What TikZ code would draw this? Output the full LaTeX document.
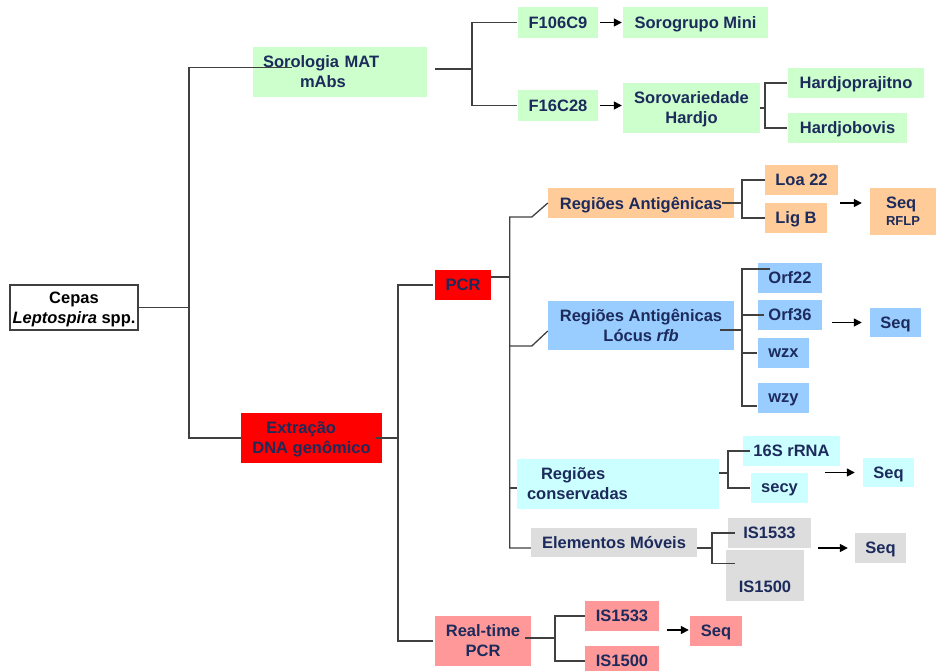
\documentclass[tikz,border=0pt]{standalone}
\usepackage{fontspec}
\setmainfont{Liberation Sans}
\usetikzlibrary{arrows.meta,positioning,calc}
\definecolor{Navy}{HTML}{1C2B5C}
\definecolor{Mint}{HTML}{CCFFCC}
\definecolor{Peach}{HTML}{FFCC99}
\definecolor{Sky}{HTML}{99CCFF}
\definecolor{Aqua}{HTML}{CCFFFF}
\definecolor{Ash}{HTML}{DDDDDD}
\definecolor{Salmon}{HTML}{FF9999}
\definecolor{Wire}{HTML}{404040}

\begin{document}
\begin{tikzpicture}[x=1pt,y=-1pt,
    box/.style={inner sep=0pt,text depth=0pt,font=\bfseries\fontsize{16.5}{20}\selectfont,text=Navy,align=center},
    wh/.style 2 args={minimum width=#1pt,minimum height=#2pt},
    conn/.style={draw=Wire,line width=1.3pt},
    arr/.style={draw=black,line width=1.5pt,-{Triangle[length=8pt,width=8pt]}}]
    \useasboundingbox (0,0) rectangle (936,670);
    % boxes
    \node[box,wh={128}{45},draw=Wire,line width=1.2pt,text=black] (cepas) at (74,307.5) {Cepas\\\textit{Leptospira} spp.};
    \node[box,fill=Mint,wh={174}{50},inner xsep=10pt,text width=154pt,text depth=,align=left] (sor) at (340,71.5) {Sorologia MAT\\\hspace*{37pt}mAbs};
    \node[box,fill=red,wh={141}{50},align=left] (ext) at (311.5,438) {\hspace*{14pt}Extração\\DNA genômico};
    \node[box,fill=Mint,wh={80}{31}] (f106) at (558,22.5) {F106C9};
    \node[box,fill=Mint,wh={145}{31}] (mini) at (695.5,22.5) {Sorogrupo Mini};
    \node[box,fill=Mint,wh={80}{31}] (f16) at (558,105.5) {F16C28};
    \node[box,fill=Mint,wh={137}{50}] (hardjo) at (691.5,108) {Sorovariedade\\Hardjo};
    \node[box,fill=Mint,wh={136}{30}] (prajitno) at (856,83) {Hardjoprajitno};
    \node[box,fill=Mint,wh={119}{30}] (bovis) at (847.5,128) {Hardjobovis};
    \node[box,fill=red,wh={56}{30}] (pcr) at (463,285) {PCR};
    \node[box,fill=Salmon,wh={96}{50}] (rt) at (483,641) {Real-time\\PCR};
    \node[box,fill=Peach,wh={186}{30}] (ant) at (641,203) {Regiões Antigênicas};
    \node[box,fill=Peach,wh={73}{30}] (loa) at (801.5,180) {Loa 22};
    \node[box,fill=Peach,wh={62}{30}] (ligb) at (796,218) {Lig B};
    \node[box,fill=Peach,wh={66}{47},align=left] (seqA) at (903,211.5) {Seq\\[-3pt]{\fontsize{13}{15}\selectfont RFLP}};
    \node[box,fill=Sky,wh={186}{49}] (rfb) at (641,325.5) {Regiões Antigênicas\\Lócus \textit{rfb}};
    \node[box,fill=Sky,wh={64}{30}] (orf22) at (790,278) {Orf22};
    \node[box,fill=Sky,wh={64}{30}] (orf36) at (790,315) {Orf36};
    \node[box,fill=Sky,wh={51}{30}] (wzx) at (783.5,353) {wzx};
    \node[box,fill=Sky,wh={51}{30}] (wzy) at (783.5,398) {wzy};
    \node[box,fill=Sky,wh={51}{29}] (seqB) at (895.5,322.5) {Seq};
    \node[box,fill=Aqua,wh={202}{50},inner xsep=10pt,text width=182pt,text depth=,align=left] (cons) at (618,484) {\hspace*{14pt}Regiões\\conservadas};
    \node[box,fill=Aqua,wh={97}{30}] (rrna) at (791.5,451) {16S rRNA};
    \node[box,fill=Aqua,wh={57}{30}] (secy) at (779.5,488) {secy};
    \node[box,fill=Aqua,wh={51}{29}] (seqC) at (888.5,472.5) {Seq};
    \node[box,fill=Ash,wh={166}{29}] (mov) at (614,542.5) {Elementos Móveis};
    \node[box,fill=Ash,wh={83}{30}] (isA) at (769.5,533) {IS1533};
    \node[box,fill=Ash,wh={78}{51}] (isB) at (765,575.5) {\strut\\IS1500};
    \node[box,fill=Ash,wh={51}{30}] (seqD) at (880.5,548) {Seq};
    \node[box,fill=Salmon,wh={74}{30}] (rtA) at (622,616) {IS1533};
    \node[box,fill=Salmon,wh={74}{30}] (rtB) at (622,661) {IS1500};
    \node[box,fill=Salmon,wh={52}{30}] (seqE) at (716,631) {Seq};
    % tree lines
    \coordinate (j1) at (189,307.5);
    \draw[conn] (cepas.east) -- (j1);
    \draw[conn] ([xshift=39pt,yshift=4pt]sor.west) -| (j1) |- (ext.west);
    \coordinate (j2) at (472,69);
    \draw[conn] ([xshift=8pt,yshift=2.5pt]sor.east) -- (j2);
    \draw[conn] ([xshift=-1pt]f106.west) -| (j2) |- ([xshift=-1pt]f16.west);
    \draw[arr] ([xshift=2pt]f106.east) -- ([xshift=-1pt]mini.west);
    \draw[arr] ([xshift=2pt]f16.east) -- ($(f16.east -| hardjo.west)+(-1,0)$);
    \coordinate (j3) at (765,108);
    \draw[conn] (hardjo.east) -- (j3);
    \draw[conn] ([xshift=-1pt]prajitno.west) -| (j3) |- ([xshift=-1pt]bovis.west);
    \coordinate (j4) at (398,438);
    \draw[conn] ([xshift=-6pt]ext.east) -- (j4);
    \draw[conn] ([xshift=-2pt]pcr.west) -| (j4) |- ([xshift=-2pt]rt.west);
    \coordinate (j5) at (510,277);
    \draw[conn] ([yshift=8pt]pcr.east) -- (j5);
    \draw[conn] (ant.west) -- ++(-16,14) -- ++(-22,0) |- ([yshift=-5.5pt]mov.west);
    \draw[conn] ([yshift=-5.5pt]rfb.west) -- ++(-16,15) -- ++(-22,0);
    \draw[conn] ([yshift=-4pt]cons.west) -- ++(-7,0);
    \coordinate (j6) at (742,203);
    \draw[conn] ([xshift=-12pt]ant.east) -- (j6);
    \draw[conn] (loa.west) -| (j6) |- (ligb.west);
    \draw[arr] ($(loa.east |- j6)+(2,0)$) -- ($(seqA.west |- j6)+(-8,0)$);
    \coordinate (j7) at (742,330);
    \draw[conn] ([xshift=-14pt,yshift=-4.5pt]rfb.east) -- (j7);
    \draw[conn] ($(orf22.west)+(12,-9)$) -| (j7) |- ($(wzy.west)+(-1,8)$);
    \draw[conn] ([xshift=6pt]orf36.west) -- (orf36.west -| j7);
    \draw[conn] ([xshift=-1pt]wzx.west) -- (wzx.west -| j7);
    \draw[arr] ($(seqB.west)+(-38,0)$) -- ($(seqB.west)+(-8,0)$);
    \coordinate (j8) at (728,473);
    \draw[conn] ([yshift=11pt]cons.east) -- (j8);
    \draw[conn] ($(rrna.west)+(7,0)$) -| (j8) |- ($(secy.west)+(-1,0)$);
    \draw[arr] ($(seqC.west)+(-38,0)$) -- ($(seqC.west)+(-8,0)$);
    \coordinate (j9) at (712,548);
    \draw[conn] ([yshift=-5.5pt]mov.east) -- (j9);
    \draw[conn] ($(isA.west)+(7,0)$) -| (j9) |- ($(isB.west)+(9,-12)$);
    \draw[arr] ($(seqD.west)+(-37,0)$) -- ($(seqD.west)+(-7,0)$);
    \coordinate (j10) at (555,638);
    \draw[conn] ([xshift=-6pt,yshift=3pt]rt.east) -- (j10);
    \draw[conn] (rtA.west) -| (j10) |- (rtB.west);
    \draw[arr] ($(seqE.west)+(-23,-1)$) -- ($(seqE.west)+(-1,-1)$);
\end{tikzpicture}
\end{document}
